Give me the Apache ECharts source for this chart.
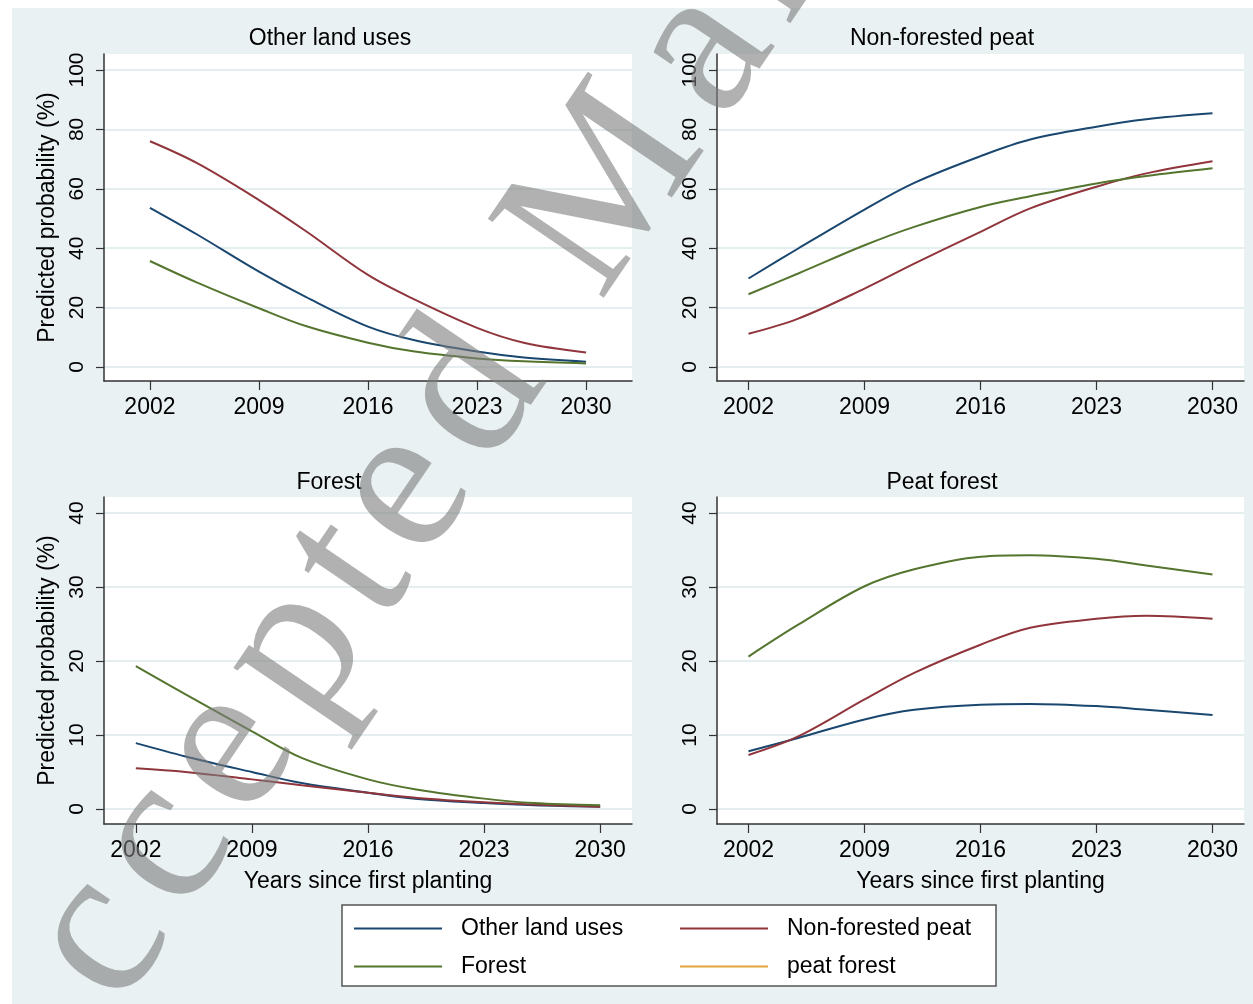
<!DOCTYPE html>
<html>
<head>
<meta charset="utf-8">
<title>Predicted probability by land use</title>
<script src="https://cdn.jsdelivr.net/npm/echarts@6/dist/echarts.min.js"></script>
<style>body{margin:0;background:#fff;}</style>
</head>
<body>
<div id="main" style="width:1253px;height:1004px;"></div>
<script type="text/javascript">
// data (predicted probability, %)
var years = [2002, 2005, 2009, 2012, 2016, 2019, 2023, 2026, 2030];
var xTicks = [2002, 2009, 2016, 2023, 2030];
var yTicksTop = [0, 20, 40, 60, 80, 100];
var yTicksBottom = [0, 10, 20, 30, 40];
var panelTitles = ['Other land uses', 'Non-forested peat', 'Forest', 'Peat forest'];
var seriesNames = ['Other land uses', 'Non-forested peat', 'Forest', 'peat forest'];

// panel: Other land uses
var otherLandOther = [53.6, 44.7, 32.1, 23.6, 13.6, 9.0, 5.2, 3.2, 1.8];
var otherLandNonForested = [76.0, 68.7, 56.2, 45.8, 31.0, 22.7, 13.2, 8.2, 4.9];
var otherLandForest = [35.7, 28.5, 19.8, 13.8, 8.2, 5.2, 2.9, 1.9, 1.2];
// panel: Non-forested peat
var nonForOther = [29.8, 39.9, 53.0, 62.0, 71.0, 76.6, 80.9, 83.4, 85.4];
var nonForNonForested = [11.2, 16.3, 26.4, 34.8, 45.5, 53.4, 60.7, 65.2, 69.3];
var nonForForest = [24.5, 31.5, 41.0, 47.2, 53.9, 57.5, 61.8, 64.3, 66.9];
// panel: Forest
var forestOther = [8.9, 7.1, 5.0, 3.5, 2.2, 1.35, 0.8, 0.5, 0.3];
var forestNonForested = [5.5, 5.0, 4.0, 3.2, 2.2, 1.5, 0.9, 0.6, 0.3];
var forestForest = [19.3, 15.5, 10.5, 6.9, 4.0, 2.6, 1.4, 0.8, 0.5];
// panel: Peat forest
var peatForOther = [7.8, 9.6, 12.1, 13.4, 14.1, 14.2, 13.9, 13.4, 12.7];
var peatForNonForested = [7.3, 9.8, 14.8, 18.4, 22.2, 24.5, 25.7, 26.1, 25.7];
var peatForForest = [20.6, 24.9, 30.1, 32.4, 34.1, 34.3, 33.8, 32.9, 31.7];

var panelData = [
    [otherLandOther, otherLandNonForested, otherLandForest],
    [nonForOther, nonForNonForested, nonForForest],
    [forestOther, forestNonForested, forestForest],
    [peatForOther, peatForNonForested, peatForForest]
];

var colors = ['#1a476f', '#90353b', '#55752f', '#e3a33c'];
var font = 'Liberation Sans, Arial, sans-serif';

var myChart = echarts.init(document.getElementById('main'));

var grids = [
    {left: 104, top: 54, width: 528, height: 327},
    {left: 717, top: 54, width: 527, height: 327},
    {left: 104, top: 497, width: 528, height: 327},
    {left: 717, top: 497, width: 527, height: 327}
];
var xRanges = [[1999.05, 2032.95], [2000.1, 2031.9], [2000.08, 2031.92], [2000.1, 2031.9]];
var yRanges = [[-4.71, 105.39], [-4.71, 105.39], [-2.03, 42.16], [-2.03, 42.16]];
var titlePos = [[330, 39], [942, 39], [329, 483], [942, 483]];

function pairs(vals) {
    return years.map(function (y, i) { return [y, vals[i]]; });
}

var xAxes = [], yAxes = [], series = [], graphics = [];

// white margin at top/left of the graph region
graphics.push({type: 'rect', shape: {x: 0, y: 0, width: 1253, height: 8}, style: {fill: '#fff'}, z: 50, silent: true});
graphics.push({type: 'rect', shape: {x: 0, y: 0, width: 12, height: 1004}, style: {fill: '#fff'}, z: 50, silent: true});

for (var p = 0; p < 4; p++) {
    var yTicks = p < 2 ? yTicksTop : yTicksBottom;
    xAxes.push({
        type: 'value', gridIndex: p, min: xRanges[p][0], max: xRanges[p][1],
        name: p >= 2 ? 'Years since first planting' : '',
        nameLocation: 'middle', nameGap: 46,
        nameTextStyle: {fontSize: 23, fontFamily: font, color: '#000'},
        axisLine: {show: true, onZero: false, lineStyle: {color: '#333', width: 1.5}},
        axisTick: {show: true, length: 9, customValues: xTicks, lineStyle: {color: '#333', width: 1.2}},
        axisLabel: {customValues: xTicks, margin: 15, fontSize: 23, fontFamily: font, color: '#000',
            formatter: function (v) { return String(v); }},
        splitLine: {show: false}
    });
    yAxes.push({
        type: 'value', gridIndex: p, min: yRanges[p][0], max: yRanges[p][1],
        name: (p % 2 === 0) ? 'Predicted probability (%)' : '',
        nameLocation: 'middle', nameGap: 45,
        nameTextStyle: {fontSize: 23, fontFamily: font, color: '#000'},
        axisLine: {show: true, onZero: false, lineStyle: {color: '#333', width: 1.5}},
        axisTick: {show: true, length: 8, customValues: yTicks, lineStyle: {color: '#333', width: 1.2}},
        axisLabel: {customValues: yTicks, rotate: 90, margin: 16, fontSize: 21, fontFamily: font, color: '#000'},
        splitLine: {show: true, lineStyle: {color: '#e4edf0', width: 2}}
    });
    for (var s = 0; s < 3; s++) {
        series.push({
            name: seriesNames[s], type: 'line', xAxisIndex: p, yAxisIndex: p,
            data: pairs(panelData[p][s]), smooth: 0.35, symbol: 'none',
            lineStyle: {color: colors[s], width: 2}, itemStyle: {color: colors[s]},
            z: 3
        });
    }
    graphics.push({
        type: 'text', x: titlePos[p][0], y: titlePos[p][1], z: 10,
        style: {text: panelTitles[p], fill: '#000', font: '23px ' + font,
            textAlign: 'center', textVerticalAlign: 'middle'}
    });
}
// legend-only entry (no line is drawn in the panels)
series.push({name: seriesNames[3], type: 'line', xAxisIndex: 0, yAxisIndex: 0, data: [],
    symbol: 'none', lineStyle: {color: colors[3], width: 2}, itemStyle: {color: colors[3]}});

// legend box
graphics.push({type: 'rect', shape: {x: 342, y: 905, width: 654, height: 81},
    style: {fill: '#fff', stroke: '#555', lineWidth: 1.5}, z: 2, silent: true});

// watermark, set letter by letter (wide spacing, smaller glyphs)
var wmText = 'Accepted Manuscript';
var wmAdvance = [0.722, 0.444, 0.444, 0.444, 0.5, 0.278, 0.444, 0.5, 0.25, 0.889, 0.444,
    0.5, 0.5, 0.389, 0.444, 0.333, 0.278, 0.5, 0.278];
var wmAngle = 55.8 * Math.PI / 180;
var wmStep = 256, wmPos = 0;
for (var k = 0; k < wmText.length; k++) {
    var along = (wmPos + wmAdvance[k] / 2) * wmStep;
    wmPos += wmAdvance[k];
    if (wmText[k] === ' ') continue;
    graphics.push({
        type: 'text', z: 100, silent: true, rotation: wmAngle,
        x: -36 + along * Math.cos(wmAngle), y: 1139 - along * Math.sin(wmAngle),
        style: {text: wmText[k], fill: 'rgba(125,125,125,0.6)',
            font: '214px Liberation Serif, Times New Roman, serif',
            textAlign: 'center', textVerticalAlign: 'middle'}
    });
}

var legendBase = {
    orient: 'vertical', top: 917, padding: 0, itemWidth: 88, itemHeight: 2, itemGap: 15,
    icon: 'rect', selectedMode: false, z: 5,
    textStyle: {fontSize: 23, fontFamily: font, color: '#000', padding: [0, 0, 0, 14]}
};

var option = {
    animation: false,
    backgroundColor: '#e9f1f3',
    grid: grids.map(function (g) {
        return {left: g.left, top: g.top, width: g.width, height: g.height,
            show: true, backgroundColor: '#fff', borderWidth: 0};
    }),
    xAxis: xAxes,
    yAxis: yAxes,
    legend: [
        Object.assign({}, legendBase, {left: 354, data: [seriesNames[0], seriesNames[2]]}),
        Object.assign({}, legendBase, {left: 680, data: [seriesNames[1], seriesNames[3]]})
    ],
    graphic: graphics,
    series: series
};

myChart.setOption(option);
</script>
</body>
</html>
